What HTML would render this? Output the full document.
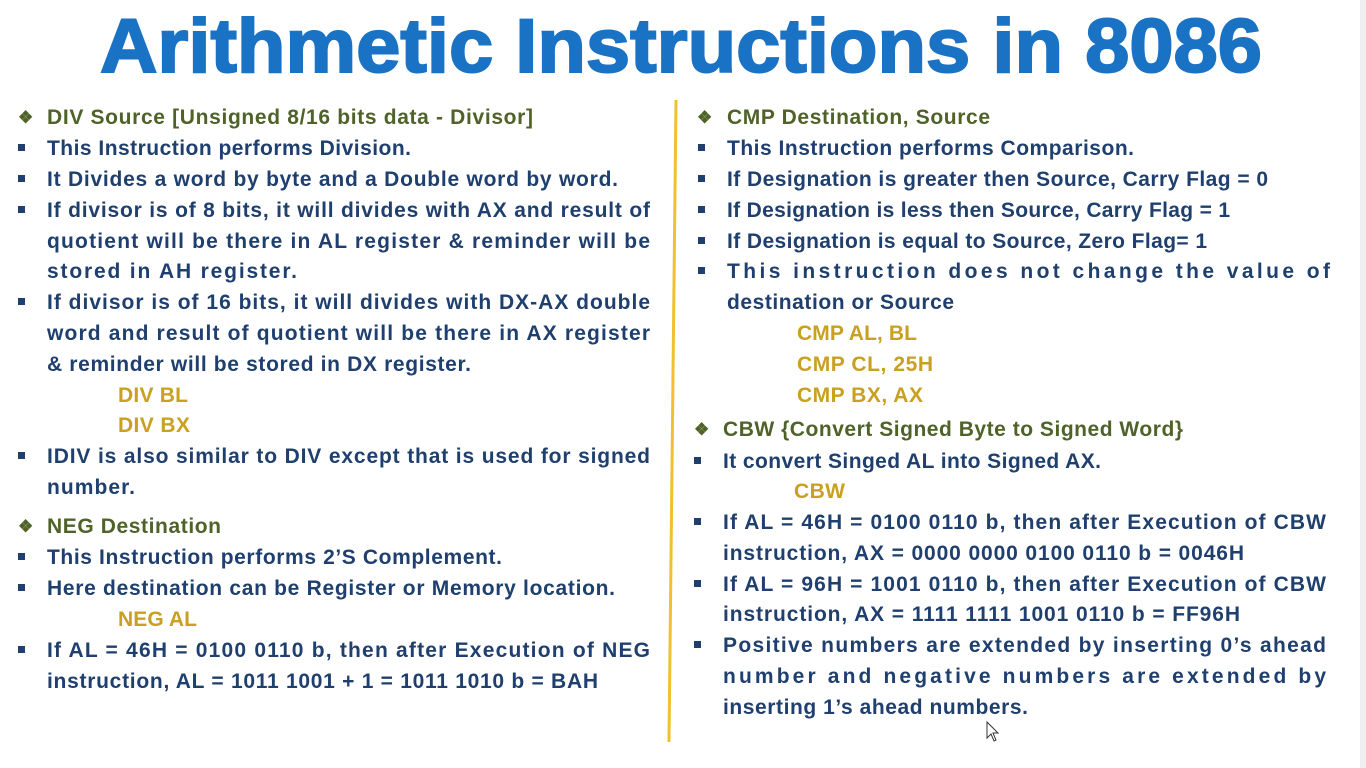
<!DOCTYPE html>
<html><head><meta charset="utf-8"><style>
html,body{margin:0;padding:0;background:#fff;width:1366px;height:768px;overflow:hidden}
svg{display:block}
text{font-family:"Liberation Sans",sans-serif;font-weight:bold}
.h{fill:#4f6228;font-size:21px}
.b{fill:#1f3f6e;font-size:21px}
.c{fill:#c9a020;font-size:21px}
.bl{fill:#1f3f6e}
.dm{fill:#4f6228;font-size:17px}
</style></head><body>
<svg width="1366" height="768">
<rect x="0" y="0" width="1366" height="768" fill="#fff"/>
<rect x="1360" y="0" width="6" height="768" fill="#efefef"/>
<text x="100" y="72" font-size="76" textLength="1162" lengthAdjust="spacingAndGlyphs" fill="#1a72c4" stroke="#1a72c4" stroke-width="2">Arithmetic Instructions in 8086</text>
<line x1="676" y1="100" x2="669" y2="742" stroke="#f0c030" stroke-width="3"/>

<g>
<text class="dm" x="18" y="123">❖</text>
<text class="h" x="47" y="124" textLength="486">DIV Source [Unsigned 8/16 bits data - Divisor]</text>
<rect class="bl" x="18" y="144" width="7" height="7"/>
<text class="b" x="47" y="155" textLength="364">This Instruction performs Division.</text>
<rect class="bl" x="18" y="175" width="7" height="7"/>
<text class="b" x="47" y="186" textLength="571">It Divides a word by byte and a Double word by word.</text>
<rect class="bl" x="18" y="206" width="7" height="7"/>
<text class="b" x="47" y="217" textLength="603">If divisor is of 8 bits, it will divides with AX and result of</text>
<text class="b" x="47" y="248" textLength="603">quotient will be there in AL register &amp; reminder will be</text>
<text class="b" x="47" y="278" textLength="250">stored in AH register.</text>
<rect class="bl" x="18" y="298" width="7" height="7"/>
<text class="b" x="47" y="309" textLength="603">If divisor is of 16 bits, it will divides with DX-AX  double</text>
<text class="b" x="47" y="340" textLength="603">word and result of quotient will be there in AX register</text>
<text class="b" x="47" y="371" textLength="424">&amp; reminder will be stored in DX register.</text>
<text class="c" x="118" y="402" textLength="70">DIV BL</text>
<text class="c" x="118" y="432" textLength="72">DIV BX</text>
<rect class="bl" x="18" y="452" width="7" height="7"/>
<text class="b" x="47" y="463" textLength="603">IDIV is also similar to DIV except that is used for signed</text>
<text class="b" x="47" y="494" textLength="88">number.</text>
<text class="dm" x="18" y="532">❖</text>
<text class="h" x="47" y="533" textLength="174">NEG Destination</text>
<rect class="bl" x="18" y="553" width="7" height="7"/>
<text class="b" x="47" y="564" textLength="455">This Instruction performs 2’S Complement.</text>
<rect class="bl" x="18" y="584" width="7" height="7"/>
<text class="b" x="47" y="595" textLength="568">Here destination can be Register or Memory location.</text>
<text class="c" x="118" y="626" textLength="79">NEG AL</text>
<rect class="bl" x="18" y="646" width="7" height="7"/>
<text class="b" x="47" y="657" textLength="603">If AL = 46H = 0100 0110 b, then after Execution of NEG</text>
<text class="b" x="47" y="688" textLength="551">instruction, AL = 1011 1001 + 1 = 1011 1010 b = BAH</text>
</g>

<g>
<text class="dm" x="697" y="123">❖</text>
<text class="h" x="727" y="124" textLength="263">CMP Destination, Source</text>
<rect class="bl" x="698" y="144" width="7" height="7"/>
<text class="b" x="727" y="155" textLength="407">This Instruction performs Comparison.</text>
<rect class="bl" x="698" y="175" width="7" height="7"/>
<text class="b" x="727" y="186" textLength="541">If Designation is greater then Source, Carry Flag = 0</text>
<rect class="bl" x="698" y="206" width="7" height="7"/>
<text class="b" x="727" y="217" textLength="503">If Designation is less then Source, Carry Flag = 1</text>
<rect class="bl" x="698" y="237" width="7" height="7"/>
<text class="b" x="727" y="248" textLength="480">If Designation is equal to Source, Zero Flag= 1</text>
<rect class="bl" x="698" y="267" width="7" height="7"/>
<text class="b" x="727" y="278" textLength="603">This instruction does not change the value of</text>
<text class="b" x="727" y="309" textLength="227">destination or Source</text>
<text class="c" x="797" y="340" textLength="120">CMP AL, BL</text>
<text class="c" x="797" y="371" textLength="136">CMP CL, 25H</text>
<text class="c" x="797" y="402" textLength="126">CMP BX, AX</text>
<text class="dm" x="694" y="435">❖</text>
<text class="h" x="723" y="436" textLength="460">CBW {Convert Signed Byte to Signed Word}</text>
<rect class="bl" x="694" y="457" width="7" height="7"/>
<text class="b" x="723" y="468" textLength="378">It convert Singed AL into Signed AX.</text>
<text class="c" x="794" y="498" textLength="51">CBW</text>
<rect class="bl" x="694" y="518" width="7" height="7"/>
<text class="b" x="723" y="529" textLength="603">If AL = 46H = 0100 0110 b, then after Execution of CBW</text>
<text class="b" x="723" y="560" textLength="521">instruction, AX = 0000 0000 0100 0110 b = 0046H</text>
<rect class="bl" x="694" y="580" width="7" height="7"/>
<text class="b" x="723" y="591" textLength="603">If AL = 96H = 1001 0110 b, then after Execution of CBW</text>
<text class="b" x="723" y="621" textLength="517">instruction, AX = 1111 1111 1001 0110 b = FF96H</text>
<rect class="bl" x="694" y="641" width="7" height="7"/>
<text class="b" x="723" y="652" textLength="603">Positive numbers are extended by inserting 0’s ahead</text>
<text class="b" x="723" y="683" textLength="603">number and negative numbers are extended by</text>
<text class="b" x="723" y="714" textLength="305">inserting 1’s ahead numbers.</text>
</g>
<path d="M987 722 L987 738 L991 734 L994 741 L996 740 L993 733 L998 733 Z" fill="#fff" stroke="#333" stroke-width="1"/>
</svg>
</body></html>
